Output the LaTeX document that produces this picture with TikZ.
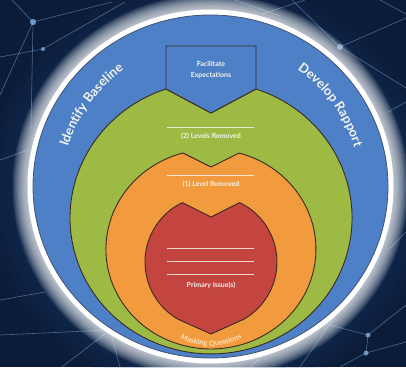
\documentclass[tikz,border=0pt]{standalone}
\usepackage{fontspec}
\setmainfont{Lato}
\usetikzlibrary{decorations.text}
\definecolor{bg}{HTML}{0B1C38}
\definecolor{bgmid}{HTML}{1A3C70}
\definecolor{net}{HTML}{86B4E6}
\definecolor{cblue}{HTML}{4D80C6}
\definecolor{cgreen}{HTML}{9CBA44}
\definecolor{corange}{HTML}{F29A3E}
\definecolor{cred}{HTML}{C4443F}
\definecolor{edge}{HTML}{3A2A22}
\definecolor{mask}{HTML}{FCE3C0}
\definecolor{ltext}{HTML}{F4F4EC}
\begin{document}
\begin{tikzpicture}[x=1pt,y=-1pt,
  netline/.style={net, line width=0.6pt, opacity=0.5},
  netdot/.style={fill=net, opacity=0.75},
  shapeline/.style={draw=edge, line width=0.9pt, line join=round},
  sepline/.style={ltext, line width=0.5pt, opacity=0.85},
  lbl/.style={text=ltext, font=\bfseries\fontsize{7}{11}\selectfont, align=center, inner sep=0pt}]
\fill[bg] (0,0) rectangle (406,367);
\useasboundingbox (0,0) rectangle (406,367);
% soft lighter background zones
\foreach \k in {1,...,8}
  \fill[bgmid, opacity=0.08] (210,190) ellipse [x radius=230-\k*6, y radius=215-\k*6];
% network
\coordinate (n1) at (33,22);
\coordinate (n2) at (43,49);
\coordinate (n3) at (340,47);
\coordinate (n4) at (368,335);
\coordinate (n5) at (366,353);
\coordinate (n6) at (110,330);
\draw[netline] (12,0) -- (n1) -- (112,2);
\draw[netline] (n1) -- (31,130);
\draw[netline] (0,57) -- (n2) -- (125,2);
\draw[netline] (0,95) -- (n1);
\draw[netline] (235,0) -- (280,16);
\draw[netline] (305,0) -- (262,14);
\draw[netline] (292,0) -- (n3) -- (406,18);
\draw[netline] (n3) -- (406,88);
\draw[netline] (380,0) -- (406,14);
\draw[netline] (388,112) -- (406,102);
\draw[netline] (0,160) -- (28,150);
\draw[netline] (0,300) -- (45,292);
\draw[netline] (0,335) -- (n6) -- (62,367);
\draw[netline] (n6) -- (120,367);
\draw[netline] (n4) -- (406,305);
\draw[netline] (n4) -- (318,322);
\draw[netline] (n5) -- (406,342);
\draw[netline] (n4) -- (n5) -- (340,367);
\draw[netline] (300,367) -- (338,312);
\draw[netline] (250,367) -- (275,345);
\draw[netline] (388,250) -- (406,232);
\fill[netdot] (n1) circle (3.2);
\fill[netdot] (n2) circle (2);
\fill[netdot] (n3) circle (3);
\fill[netdot] (n4) circle (2.5);
\fill[netdot] (n5) circle (2.5);
\fill[netdot] (n6) circle (1.8);
% glow
\foreach \k in {0,...,11}
  \fill[white, opacity=0.1] (210.5,186.5) ellipse [x radius=198-\k*1.3, y radius=192-\k*1.3];
\fill[white] (210.5,186.5) ellipse [x radius=183, y radius=177];
% blue disc
\filldraw[fill=cblue, draw=edge!50!cblue, line width=0.8pt] (210.5,186.5) ellipse [x radius=177.5, y radius=171.5];
% green
\filldraw[shapeline, fill=cgreen] (166,89) -- (211,113) -- (256,89)
  arc[start angle=-71.4, end angle=251.4, x radius=141, y radius=136] -- cycle;
% facilitate box
\filldraw[shapeline, fill=cblue] (166,46) -- (256,46) -- (256,89) -- (211,113) -- (166,89) -- cycle;
% orange
\filldraw[shapeline, fill=corange] (183,153) -- (211,167) -- (239,153)
  arc[start angle=-74.5, end angle=254.5, x radius=105, y radius=99.8] -- cycle;
% red
\filldraw[shapeline, fill=cred] (182.3,202.6) -- (211,217) -- (239.7,202.6)
  arc[start angle=-64.2, end angle=60, radius=66] -- (211,334) -- (178,319.2)
  arc[start angle=120, end angle=244.2, radius=66] -- cycle;
% separator lines
\draw[sepline] (167,127) -- (254,127);
\draw[sepline] (167,175) -- (254,175);
\draw[sepline] (167,248) -- (254,248);
\draw[sepline] (167,261) -- (254,261);
\draw[sepline] (167,274) -- (254,274);
% labels
\node[lbl] (fe) at (211,70) {Facilitate\\Expectations};
\node[lbl] (l2) at (211,136) {(2) Levels Removed};
\node[lbl] (l1) at (211,184) {(1) Level Removed};
\node[lbl] (pi) at (211,285) {Primary Issue(s)};
% curved labels
\path[decorate, decoration={text along path, text align=center, text color=ltext,
  text={|\bfseries\fontsize{13}{13}\selectfont|Identify Baseline}}]
  (211,192) ++(180:150) arc[start angle=180, end angle=252, radius=150];
\path[decorate, decoration={text along path, text align=center, text color=ltext,
  text={|\bfseries\fontsize{13}{13}\selectfont|Develop Rapport}}]
  (211,192) ++(288:150) arc[start angle=288, end angle=360, radius=150];
\path[decorate, decoration={text along path, text align=center, text color=mask,
  text={|\bfseries\fontsize{7.5}{8}\selectfont|Masking Questions}}]
  (211,282) ++(150:64) arc[start angle=150, end angle=30, radius=64];
\end{tikzpicture}
\end{document}
